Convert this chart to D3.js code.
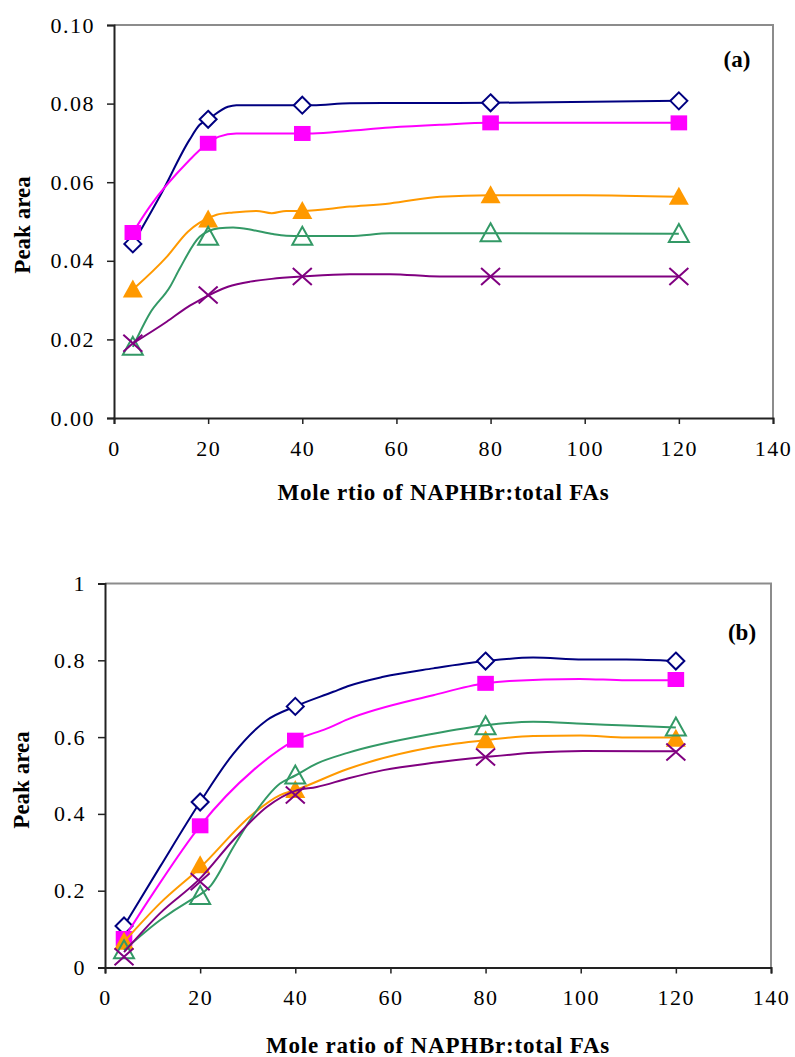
<!DOCTYPE html>
<html><head><meta charset="utf-8">
<script src="https://cdn.jsdelivr.net/npm/d3@7"></script>
<style>
body{margin:0;background:#fff;}
svg text{font-family:"Liberation Serif","Times New Roman",Times,serif !important;fill:#000;}
</style></head>
<body>
<svg id="c" width="795" height="1057"></svg>
<script>
// ---------- DATA ----------
const markerX = [4, 20, 40, 80, 120];
const seriesNames = ["diamond", "square", "triFilled", "triOpen", "cross"];
const seriesColors = ["#000080", "#FF00FF", "#FF9900", "#339966", "#800080"];

// Panel (a) marker values
const aDiamond   = [0.0443, 0.0760, 0.0796, 0.0802, 0.0807];
const aSquare    = [0.0472, 0.0699, 0.0724, 0.0751, 0.0751];
const aTriFilled = [0.0327, 0.0505, 0.0527, 0.0567, 0.0563];
const aTriOpen   = [0.0181, 0.0461, 0.0461, 0.0470, 0.0468];
const aCross     = [0.0190, 0.0313, 0.0360, 0.0360, 0.0360];

// Panel (a) line traces
const aLineDiamond = [[4,.0443],[10,.057],[16,.0707],[18.2,.0746],[20,.076],[24.2,.0792],[26,.0796],[40,.0796],[42.2,.0796],[50.1,.0801],[80,.0802],[120,.0807]];
const aLineSquare = [[4,.0472],[7.6,.0538],[16.1,.0657],[18.2,.0682],[20,.0699],[22.3,.0716],[26,.0724],[40,.0724],[42.2,.0724],[50.1,.0731],[58.6,.0739],[69.2,.0746],[80,.0751],[120,.0751]];
const aLineTriFilled = [[4,.0327],[11.2,.041],[15.7,.0474],[18.2,.0497],[21.8,.0517],[25.3,.0523],[30.3,.0527],[33.5,.0521],[36.6,.0527],[40,.0527],[50.1,.0538],[58.6,.0546],[69.2,.0563],[80,.0567],[99.7,.0567],[120,.0563]];
const aLineTriOpen = [[4,.0181],[7.6,.0266],[11.9,.0334],[14,.0381],[18.2,.0461],[22.3,.0483],[25.3,.0485],[29.6,.0478],[33.8,.0468],[36.6,.0464],[40,.0463],[50.1,.0463],[58.6,.047],[80,.047],[120,.0469]];
const aLineCross = [[4,.019],[11.2,.0245],[15.7,.0283],[18.2,.03],[24.2,.0334],[28.9,.0347],[33.5,.0354],[40,.036],[50.1,.0366],[58.6,.0366],[69.2,.036],[80,.036],[120,.036]];

// Panel (b) marker values
const bDiamond   = [0.108, 0.431, 0.680, 0.798, 0.798];
const bSquare    = [0.0755, 0.369, 0.592, 0.740, 0.750];
const bTriFilled = [0.067, 0.266, 0.462, 0.592, 0.596];
const bTriOpen   = [0.045, 0.186, 0.500, 0.628, 0.625];
const bCross     = [0.028, 0.223, 0.449, 0.548, 0.561];

// Panel (b) line traces
const bLineDiamond = [[4,.108],[11.55,.262],[20,.431],[27,.557],[34,.644],[40,.68],[48,.718],[51,.7325],[58.5,.757],[69,.779],[80,.798],[90,.807],[100.5,.802],[109.6,.802],[120,.798]];
const bLineSquare = [[4,.076],[10.1,.193],[20,.369],[31.2,.514],[40,.592],[46.6,.622],[51,.646],[69,.709],[80,.74],[85,.746],[99.8,.7516],[109.6,.748],[120,.748]];
const bLineTriFilled = [[4,.067],[11.55,.167],[20,.26],[31.2,.401],[36.8,.449],[40,.462],[51,.517],[69,.574],[80,.592],[90,.603],[100,.604],[109.6,.599],[120,.599]];
const bLineTriOpen = [[4,.045],[11.55,.123],[17.9,.175],[20,.19],[22,.21],[27,.314],[31.2,.397],[36.8,.479],[40,.5],[44.5,.531],[51,.559],[69,.609],[80,.631],[90,.64],[100.5,.635],[109.6,.63],[120,.625]];
const bLineCross = [[4,.04],[11.55,.141],[20,.232],[27,.332],[34,.418],[40,.46],[44.5,.47],[51,.492],[58.5,.514],[69,.533],[80,.548],[90,.559],[100.5,.564],[120,.563]];

const xTicks = [0, 20, 40, 60, 80, 100, 120, 140];
const aYTicks = [0, 0.02, 0.04, 0.06, 0.08, 0.10];
const bYTicks = [0, 0.2, 0.4, 0.6, 0.8, 1];
const aTitleX = "Mole rtio of NAPHBr:total FAs";
const bTitleX = "Mole ratio of NAPHBr:total FAs";
const titleY = "Peak area";

// ---------- DRAW ----------
const svg = d3.select("#c");

function shapePath(kind) {
  switch (kind) {
    case "diamond": return "M0,-8.5L8.5,0L0,8.5L-8.5,0Z";
    case "square": return "M-8.3,-7.5H8.3V7.5H-8.3Z";
    case "triFilled":
    case "triOpen": return "M0,-10L10,8L-10,8Z";
    case "cross": return "M-9.5,-8.5L9.5,8.5M-9.5,8.5L9.5,-8.5";
  }
}

function panel(cfg) {
  const x = d3.scaleLinear().domain([0, 140]).range([cfg.left, cfg.right]);
  const y = d3.scaleLinear().domain(cfg.yDomain).range([cfg.bottom, cfg.top]);
  const g = svg.append("g");

  g.append("path")
    .attr("d", `M${cfg.left},${cfg.top}H${cfg.right}V${cfg.bottom}`)
    .attr("fill", "none").attr("stroke", "#8c8c8c").attr("stroke-width", 2);

  const ya = g.append("g").attr("transform", `translate(${cfg.left},0)`)
    .call(d3.axisLeft(y).tickValues(cfg.yTicks).tickFormat(cfg.yFmt).tickSize(7).tickPadding(12));
  ya.attr("font-family", null);
  ya.select(".domain").attr("stroke", "#222").attr("stroke-width", 2);
  ya.selectAll(".tick line").attr("stroke", "#222").attr("stroke-width", 1.5);
  ya.selectAll(".tick text").attr("font-size", 22).style("letter-spacing", "1.5px");

  const xa = g.append("g").attr("transform", `translate(0,${cfg.bottom})`)
    .call(d3.axisBottom(x).tickValues(xTicks).tickFormat(d3.format("d")).tickSize(6).tickPadding(16));
  xa.attr("font-family", null);
  xa.select(".domain").attr("stroke", "#222").attr("stroke-width", 2);
  xa.selectAll(".tick line").attr("stroke", "#222").attr("stroke-width", 1.5);
  xa.selectAll(".tick text").attr("font-size", 22).style("letter-spacing", "1.5px");

  const line = d3.line().x(d => x(d[0])).y(d => y(d[1])).curve(d3.curveMonotoneX);

  cfg.series.forEach((s, i) => {
    const color = seriesColors[i];
    const kind = seriesNames[i];
    g.append("path").datum(s.line).attr("d", line)
      .attr("fill", "none").attr("stroke", color).attr("stroke-width", 2);
    g.selectAll(null).data(s.vals).enter().append("path")
      .attr("transform", (d, j) => `translate(${x(markerX[j])},${y(d)})`)
      .attr("d", shapePath(kind))
      .attr("fill", kind === "diamond" ? "#fff" : (kind === "square" || kind === "triFilled") ? color : "none")
      .attr("stroke", color)
      .attr("stroke-width", kind === "square" || kind === "triFilled" ? 0 : 2);
  });

  g.append("text").attr("x", cfg.panelLabel[0]).attr("y", cfg.panelLabel[1])
    .attr("text-anchor", "middle").attr("dominant-baseline", "central")
    .attr("font-size", 23).attr("font-weight", "bold").text(cfg.label);
  g.append("text").attr("x", (cfg.left + cfg.right) / 2).attr("y", cfg.xTitleY)
    .attr("text-anchor", "middle").attr("font-size", 23).attr("font-weight", "bold")
    .style("letter-spacing", "0.8px").text(cfg.xTitle);
  g.append("text").attr("transform", `translate(${cfg.yTitleX},${cfg.yTitleCY}) rotate(-90)`)
    .attr("text-anchor", "middle").attr("font-size", 23).attr("font-weight", "bold")
    .text(titleY);
}

panel({
  left: 114, right: 773, top: 25, bottom: 418,
  yDomain: [0, 0.1], yTicks: aYTicks, yFmt: d3.format(".2f"),
  series: [
    {vals: aDiamond, line: aLineDiamond},
    {vals: aSquare, line: aLineSquare},
    {vals: aTriFilled, line: aLineTriFilled},
    {vals: aTriOpen, line: aLineTriOpen},
    {vals: aCross, line: aLineCross}
  ],
  label: "(a)", panelLabel: [737, 59],
  xTitle: aTitleX, xTitleY: 500, yTitleX: 30, yTitleCY: 225
});

panel({
  left: 105, right: 771, top: 583.5, bottom: 967.5,
  yDomain: [0, 1], yTicks: bYTicks, yFmt: d3.format("~g"),
  series: [
    {vals: bDiamond, line: bLineDiamond},
    {vals: bSquare, line: bLineSquare},
    {vals: bTriFilled, line: bLineTriFilled},
    {vals: bTriOpen, line: bLineTriOpen},
    {vals: bCross, line: bLineCross}
  ],
  label: "(b)", panelLabel: [742, 632],
  xTitle: bTitleX, xTitleY: 1053, yTitleX: 29, yTitleCY: 780
});
</script>
</body></html>
